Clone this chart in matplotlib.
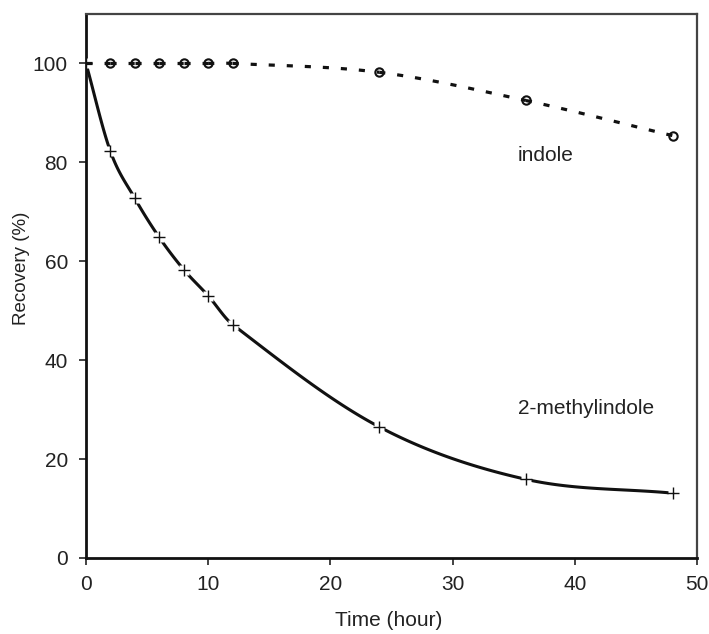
import numpy as np
import matplotlib
matplotlib.use("Agg")
import matplotlib.pyplot as plt

plt.rcParams['font.family'] = ['Liberation Sans', 'DejaVu Sans']
plt.rcParams['lines.scale_dashes'] = False

time_h = [0, 2, 4, 6, 8, 10, 12, 24, 36, 48]
methylindole = [100, 82.2, 72.7, 64.8, 58.3, 53.0, 47.2, 26.5, 15.9, 13.1]
indole = [100, 100, 100, 100, 100, 100, 100, 98.2, 92.5, 85.4]

x_ticks = [0, 10, 20, 30, 40, 50]
y_ticks = [0, 20, 40, 60, 80, 100]

N_SEG = 40


def smooth_segments(x, y, n=N_SEG):
    """Cubic Hermite (Catmull-Rom style) pieces through the points (rendering only)."""
    x = np.asarray(x, float)
    y = np.asarray(y, float)
    m = np.zeros_like(y)
    m[1:-1] = (y[2:] - y[:-2]) / (x[2:] - x[:-2])
    m[0] = (y[1] - y[0]) / (x[1] - x[0])
    m[-1] = (y[-1] - y[-2]) / (x[-1] - x[-2])
    segs = []
    t = np.linspace(0, 1, n)
    h00 = 2 * t**3 - 3 * t**2 + 1
    h10 = t**3 - 2 * t**2 + t
    h01 = -2 * t**3 + 3 * t**2
    h11 = t**3 - t**2
    for i in range(len(x) - 1):
        h = x[i + 1] - x[i]
        xs = x[i] + t * h
        ys = h00 * y[i] + h10 * h * m[i] + h01 * y[i + 1] + h11 * h * m[i + 1]
        segs.append((xs, ys))
    return segs


fig = plt.figure(figsize=(7.09, 6.34), dpi=100)
ax = fig.add_axes([0.1213, 0.12, 0.8617, 0.858])

# 2-methylindole: solid smooth line
for xs, ys in smooth_segments(time_h, methylindole):
    ax.plot(xs, ys, color='#111111', lw=2.2, solid_capstyle='butt', zorder=3)
ax.plot(time_h, methylindole, ls='none', marker='s', ms=6.5, mfc='white', mec='none', zorder=4)
ax.plot(time_h, methylindole, ls='none', marker='+', ms=8, mew=1.0, color='#111111', zorder=5)

# indole: markers under a dashed smooth line (dash pattern restarts at each point)
ax.plot(time_h[1:], indole[1:], ls='none', marker='o', ms=6, mfc='white', mec='#111111', mew=1.5, zorder=3)
for xs, ys in smooth_segments(time_h, indole):
    ax.plot(xs, ys, color='#111111', lw=2.3, dashes=(4.4, 8.6), dash_capstyle='butt', zorder=4)

ax.text(35.35, 81.4, 'indole', fontsize=15, va='center', ha='left', color='#222222')
ax.text(35.35, 30.3, '2-methylindole', fontsize=15, va='center', ha='left', color='#222222')

ax.set_xlim(0, 50)
ax.set_ylim(0, 110)
ax.set_xticks(x_ticks)
ax.set_yticks(y_ticks)
ax.tick_params(direction='out', length=5, width=1.2, labelsize=15, colors='#222222')
ax.tick_params(axis='y', pad=8)
ax.tick_params(axis='x', pad=7)

fig.text(389 / 709, 1 - 621 / 634, 'Time (hour)', fontsize=15, ha='center', va='center', color='#222222')
fig.text(22 / 709, 1 - 268 / 634, 'Recovery (%)', fontsize=13.5, ha='center', va='center',
         rotation=90, color='#222222')

for side in ['left', 'bottom']:
    ax.spines[side].set_linewidth(2.0)
    ax.spines[side].set_color('#111111')
for side in ['top', 'right']:
    ax.spines[side].set_linewidth(1.6)
    ax.spines[side].set_color('#444444')

fig.savefig('out.png', dpi=100)
